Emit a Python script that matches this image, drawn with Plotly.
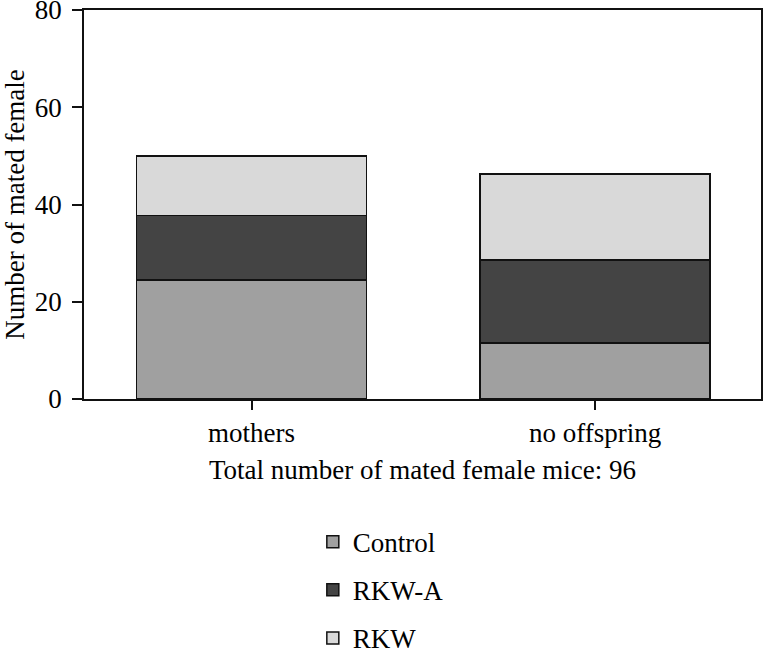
import plotly.graph_objects as go

categories = ["mothers", "no offspring"]
control = [24.5, 11.5]
rkw_a = [13.2, 17.1]
rkw = [12.3, 17.7]
y_ticks = [0, 20, 40, 60, 80]

series = [
    ("Control", control, "#a0a0a0"),
    ("RKW-A", rkw_a, "#444444"),
    ("RKW", rkw, "#d9d9d9"),
]

font = dict(family="Liberation Serif, Times New Roman, serif", size=27, color="black")

fig = go.Figure()
for name, vals, col in series:
    fig.add_trace(go.Bar(
        x=categories, y=vals, name=name, legendgroup=name,
        marker=dict(color=col, line=dict(color="#111111", width=1.5)),
        width=0.67,
    ))

fig.update_layout(
    barmode="stack",
    width=763, height=651,
    margin=dict(l=84, r=2, t=10, b=252, autoexpand=False),
    plot_bgcolor="white", paper_bgcolor="white",
    font=font,
    showlegend=True,
    legend=dict(
        traceorder="grouped", tracegroupgap=10,
        x=0.338, xanchor="left", y=-0.305, yanchor="top",
        font=font, bgcolor="rgba(0,0,0,0)",
    ),
    xaxis=dict(
        range=[-0.488, 1.483], automargin=False,
        showline=True, linecolor="#111111", linewidth=1.5, mirror=True,
        ticks="outside", ticklen=9, tickwidth=1.5, tickcolor="#111111",
        tickfont=font,
        title=dict(text="Total number of mated female mice: 96", standoff=13, font=font),
    ),
    yaxis=dict(
        range=[0, 80], tickvals=y_ticks, automargin=False,
        showline=True, linecolor="#111111", linewidth=1.5, mirror=True,
        ticks="outside", ticklen=10, tickwidth=1.5, tickcolor="#111111",
        showgrid=False, zeroline=False, tickfont=font,
        ticklabeloverflow="allow", ticklabelstandoff=5,
        title=dict(text="Number of mated female", standoff=4, font=font),
    ),
)

fig.write_html("out.html", config={"displayModeBar": False},
               post_script='document.body.style.margin="0";')
